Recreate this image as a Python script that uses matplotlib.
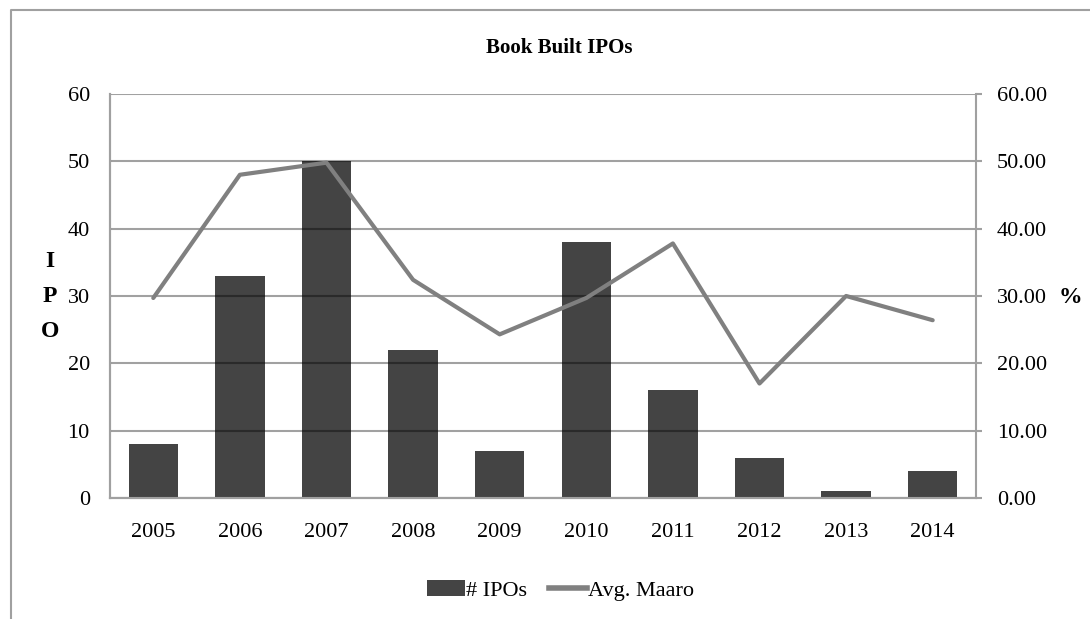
import matplotlib.pyplot as plt
from matplotlib.lines import Line2D
from matplotlib.patches import Patch

# data
years = ['2005', '2006', '2007', '2008', '2009', '2010', '2011', '2012', '2013', '2014']
ipos = [8, 33, 50, 22, 7, 38, 16, 6, 1, 4]
avg_maaro = [29.7, 48.0, 49.8, 32.4, 24.3, 29.7, 37.8, 17.0, 30.0, 26.4]
left_ticks = [0, 10, 20, 30, 40, 50, 60]
right_ticks = [0, 10, 20, 30, 40, 50, 60]

plt.rcParams['font.family'] = ['Liberation Serif', 'DejaVu Serif']
fs = 16
gray = '#a0a0a0'

fig = plt.figure(figsize=(10.9, 6.19), dpi=100)
ax = fig.add_axes([0.1009, 0.1955, 0.7945, 0.6527])
ax2 = ax.twinx()

x = list(range(len(years)))
ax.bar(x, ipos, width=0.57, color='#444444', zorder=1)
ax.set_xlim(-0.5, len(years) - 0.5)
ax.set_ylim(0, 60)
ax.set_yticks(left_ticks)
ax.set_yticklabels([str(t) for t in left_ticks])
ax.set_xticks(x)
ax.set_xticklabels(years)
ax.grid(axis='y', color='black', alpha=0.37, linewidth=1.5, zorder=2)
ax.set_axisbelow(False)
ax.tick_params(axis='y', length=0, pad=14.5, labelsize=fs)
ax.tick_params(axis='x', length=0, pad=18, labelsize=fs)

ax2.plot(x, avg_maaro, color='#808080', linewidth=3, solid_capstyle='round')
ax2.set_ylim(0, 60)
ax2.set_yticks(right_ticks)
ax2.set_yticklabels(['%.2f' % t for t in right_ticks])
ax2.tick_params(axis='y', length=4.5, width=1.5, color=gray, pad=10.5, labelsize=fs)

for a in (ax, ax2):
    a.spines['top'].set_visible(False)
    for s in ('left', 'right', 'bottom'):
        a.spines[s].set_color(gray)
        a.spines[s].set_linewidth(1.5)
ax.spines['right'].set_visible(False)

fig.text(0.513, 0.923, 'Book Built IPOs', ha='center', va='center',
         fontsize=15, fontweight='bold')
for i, ch in enumerate('IPO'):
    fig.text(0.046, 0.577 - i * 0.056, ch, ha='center', va='center',
             fontsize=17, fontweight='bold')
fig.text(0.982, 0.52, '%', ha='center', va='center', fontsize=17, fontweight='bold')

# outer chart frame (top and left edges only visible)
fig.add_artist(Line2D([0.0101, 0.0101, 1.0], [0.0, 0.9838, 0.9838],
                      transform=fig.transFigure, color=gray, linewidth=1.5))

handles = [Patch(facecolor='#444444', edgecolor='none'),
           Line2D([0], [0], color='#808080', linewidth=4)]
fig.legend(handles, ['# IPOs', 'Avg. Maaro'], loc='center', bbox_to_anchor=(0.514, 0.046),
           ncol=2, frameon=False, fontsize=fs, handlelength=1.7, handletextpad=0.05,
           columnspacing=1.0)

fig.savefig('out.png', dpi=100)
